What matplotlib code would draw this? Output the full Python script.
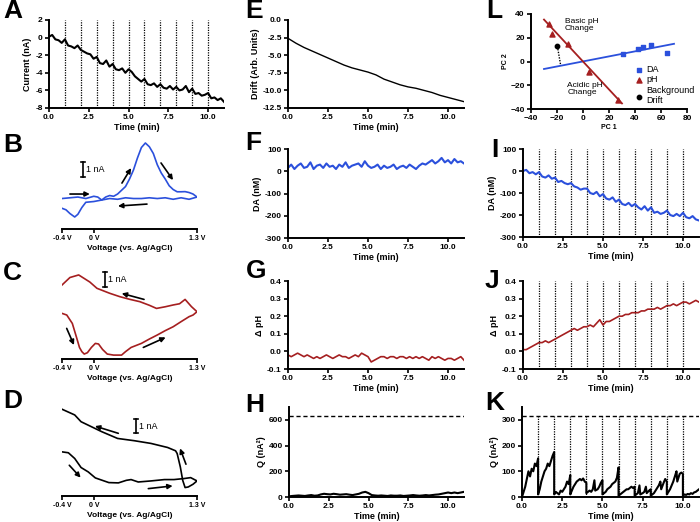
import numpy as np
import matplotlib
matplotlib.use("Agg")
import matplotlib.pyplot as plt

plt.rcParams['font.family'] = ['Liberation Sans', 'DejaVu Sans']
plt.rcParams['font.weight'] = 'bold'
plt.rcParams['axes.labelweight'] = 'bold'

W, H = 700, 522
BLUE = '#2b50dc'
RED = '#a51f20'

minute_marks = [1, 2, 3, 4, 5, 6, 7, 8, 9, 10]

# A: background current (nA), sampled every 0.2 min
a_current = [0.1, 0.3, -0.2, -0.3, -0.6, -0.2, -0.9, -1.0, -1.2, -0.9,
             -1.4, -1.6, -1.8, -1.9, -2.4, -2.2, -2.9, -3.0, -2.6, -3.3,
             -3.0, -3.6, -3.7, -3.5, -4.0, -3.6, -3.9, -4.4, -4.7, -5.0,
             -4.7, -5.3, -5.4, -5.2, -5.6, -5.3, -5.7, -5.8, -5.5, -5.9,
             -5.6, -6.0, -5.9, -5.5, -6.2, -5.8, -6.4, -6.3, -6.6, -6.5,
             -6.3, -6.9, -6.8, -7.1, -6.9, -7.3]

# E: drift (arb. units), every 0.5 min
e_drift = [-2.6, -3.3, -3.9, -4.4, -4.9, -5.4, -5.9, -6.4, -6.8, -7.1, -7.4, -7.8,
           -8.4, -8.8, -9.2, -9.5, -9.7, -10.0, -10.3, -10.7, -11.0, -11.3, -11.6]

# F, G, H: drift removed
f_da = [15, 30, 10, 25, 35, 15, 20, 40, 10, 25,
        30, 15, 35, 20, 25, 10, 30, 20, 40, 15,
        25, 30, 35, 20, 45, 25, 15, 20, 30, 10,
        25, 15, 20, 30, 10, 20, 25, 15, 30, 20,
        10, 25, 35, 30, 40, 50, 35, 45, 60, 40,
        50, 35, 55, 40, 45, 35]
g_ph = [-0.02, -0.03, -0.02, -0.01, -0.02, -0.03, -0.02, -0.03, -0.04, -0.03,
        -0.04, -0.03, -0.02, -0.03, -0.04, -0.03, -0.02, -0.03, -0.03, -0.04,
        -0.03, -0.02, -0.03, -0.01, -0.02, -0.03, -0.06, -0.05, -0.04, -0.03,
        -0.03, -0.04, -0.03, -0.03, -0.04, -0.03, -0.03, -0.04, -0.03, -0.04,
        -0.03, -0.04, -0.03, -0.04, -0.05, -0.03, -0.04, -0.03, -0.04, -0.05,
        -0.04, -0.04, -0.05, -0.04, -0.03, -0.05]
h_q = [5, 8, 10, 12, 10, 8, 12, 15, 10, 12,
       20, 25, 22, 20, 25, 22, 18, 20, 22, 18,
       15, 20, 25, 35, 40, 30, 15, 12, 10, 12,
       10, 8, 12, 10, 10, 12, 8, 10, 12, 15,
       12, 10, 12, 15, 12, 15, 18, 20, 25, 30,
       35, 30, 35, 30, 35, 40]
h_thresh = 630

# I, J, K: drift not removed
i_da = [0, 5, -10, -5, -15, -5, -25, -30, -20, -35,
        -30, -50, -45, -55, -60, -55, -70, -75, -85, -80,
        -80, -100, -105, -95, -115, -105, -125, -130, -120, -140,
        -130, -150, -155, -145, -160, -150, -165, -175, -160, -180,
        -165, -190, -185, -195, -190, -180, -200, -205, -195, -205,
        -190, -210, -215, -205, -220, -225]
j_ph = [0.01, 0.01, 0.02, 0.03, 0.04, 0.05, 0.05, 0.06, 0.05, 0.06,
        0.07, 0.08, 0.09, 0.10, 0.11, 0.12, 0.13, 0.12, 0.13, 0.14,
        0.14, 0.15, 0.14, 0.16, 0.18, 0.15, 0.17, 0.17, 0.18, 0.19,
        0.20, 0.20, 0.21, 0.21, 0.22, 0.22, 0.22, 0.23, 0.23, 0.24,
        0.24, 0.24, 0.25, 0.24, 0.25, 0.26, 0.26, 0.27, 0.26, 0.27,
        0.28, 0.28, 0.27, 0.28, 0.29, 0.28]
k_t = [0, 0.1, 0.2, 0.3, 0.4, 0.5, 0.6, 0.7, 0.8, 0.9, 1.0,
       1.0, 1.1, 1.2, 1.3, 1.4, 1.5, 1.6, 1.7, 1.8, 1.9, 2.0,
       2.0, 2.1, 2.2, 2.3, 2.4, 2.5, 2.6, 2.7, 2.8, 2.9, 3.0,
       3.0, 3.1, 3.2, 3.3, 3.4, 3.5, 3.6, 3.7, 3.8, 3.9, 4.0,
       4.0, 4.1, 4.2, 4.3, 4.4, 4.5, 4.55, 4.7, 4.8, 4.9, 5.0,
       5.0, 5.1, 5.2, 5.3, 5.4, 5.5, 5.6, 5.7, 5.8, 5.9, 6.0,
       6.0, 6.1, 6.2, 6.3, 6.4, 6.5, 6.6, 6.7, 6.8, 6.9, 7.0,
       7.0, 7.1, 7.2, 7.3, 7.35, 7.5, 7.6, 7.7, 7.75, 7.9, 8.0,
       8.0, 8.1, 8.2, 8.3, 8.4, 8.5, 8.6, 8.65, 8.8, 8.9, 9.0,
       9.0, 9.1, 9.2, 9.3, 9.4, 9.5, 9.6, 9.65, 9.8, 9.9, 10.0,
       10.0, 10.1, 10.2, 10.3, 10.4, 10.5, 10.6, 10.7, 10.8, 10.9, 11.0]
k_q = [0, 20, 40, 70, 100, 80, 110, 100, 130, 120, 150,
       10, 30, 60, 80, 100, 110, 130, 120, 140, 160, 175,
       10, 20, 15, 10, 25, 20, 30, 40, 60, 50, 85,
       10, 25, 40, 50, 60, 65, 70, 65, 72, 60, 55,
       15, 20, 25, 20, 30, 65, 25, 30, 40, 55, 65,
       10, 15, 20, 30, 35, 40, 50, 55, 60, 75, 115,
       5, 10, 15, 20, 25, 30, 30, 35, 40, 35, 40,
       5, 10, 15, 45, 10, 15, 20, 40, 15, 25, 30,
       5, 10, 15, 25, 35, 45, 60, 30, 55, 70, 60,
       10, 20, 30, 45, 60, 80, 100, 60, 90, 95, 90,
       5, 10, 8, 12, 10, 15, 12, 18, 20, 25, 30]
k_thresh = 315

# B: dopamine CV (V, nA)
b_fwd_v = [-0.4, -0.3, -0.2, -0.1, 0.0, 0.05, 0.1, 0.15, 0.2, 0.25, 0.3, 0.35, 0.4, 0.45,
           0.5, 0.55, 0.6, 0.65, 0.7, 0.75, 0.8, 0.85, 0.9, 0.95, 1.0, 1.05, 1.1, 1.15,
           1.2, 1.25, 1.3]
b_fwd_i = [-0.1, -0.05, 0.0, -0.1, 0.05, 0.0, -0.2, 0.0, 0.1, 0.05, 0.2, 0.45, 0.7, 1.2,
           1.8, 2.6, 3.3, 3.6, 3.35, 2.9, 2.15, 1.6, 1.2, 0.75, 0.5, 0.35, 0.35, 0.36,
           0.3, 0.2, 0.0]
b_rev_v = [1.3, 1.2, 1.1, 1.0, 0.9, 0.8, 0.7, 0.6, 0.5, 0.4, 0.3, 0.2, 0.1, 0.0, -0.1,
           -0.15, -0.2, -0.24, -0.3, -0.35, -0.4]
b_rev_i = [0.0, -0.15, -0.05, -0.15, -0.05, -0.1, -0.05, -0.1, -0.1, -0.05, -0.15, -0.1,
           -0.2, -0.3, -0.35, -0.7, -1.15, -1.33, -1.1, -0.85, -0.75]

# C: pH CV
c_fwd_v = [-0.4, -0.34, -0.27, -0.22, -0.18, -0.15, -0.12, -0.08, -0.03, 0.02, 0.06, 0.11,
           0.17, 0.25, 0.35, 0.4, 0.47, 0.6, 0.7, 0.8, 0.9, 1.0, 1.1, 1.2, 1.25, 1.3]
c_fwd_i = [-0.09, -0.2, -0.76, -1.64, -2.36, -2.64, -2.8, -2.71, -2.36, -2.09, -2.13, -2.49,
           -2.8, -2.87, -2.87, -2.64, -2.36, -2.09, -1.8, -1.53, -1.24, -0.98, -0.64, -0.31,
           -0.2, 0.02]
c_rev_v = [1.3, 1.23, 1.15, 1.08, 1.0, 0.9, 0.79, 0.7, 0.58, 0.45, 0.33, 0.2, 0.04, -0.05,
           -0.19, -0.3, -0.4]
c_rev_i = [0.02, 0.36, 0.84, 0.55, 0.47, 0.35, 0.24, 0.45, 0.69, 0.85, 1.02, 1.25, 1.58,
           2.0, 2.47, 2.3, 1.8]

# D: background drift CV
d_fwd_v = [-0.4, -0.32, -0.24, -0.16, -0.07, 0.02, 0.19, 0.31, 0.41, 0.47, 0.56, 0.72,
           0.89, 1.01, 1.14, 1.22, 1.3]
d_fwd_i = [1.93, 1.87, 1.49, 0.89, 0.6, 0.2, -0.11, -0.13, 0.04, 0.09, -0.07, 0.0,
           0.09, 0.09, 0.16, 0.22, 0.0]
d_rev_v = [1.3, 1.25, 1.19, 1.15, 1.12, 1.09, 1.05, 1.03, 0.93, 0.72, 0.51, 0.3, 0.1,
           -0.03, -0.16, -0.24, -0.4]
d_rev_i = [0.0, -0.22, -0.4, -0.44, 0.04, 0.93, 1.82, 2.0, 2.22, 2.49, 2.67, 2.82, 3.27,
           3.6, 3.93, 4.38, 4.76]

# L: principal component scores
da_pc1 = [31, 42.6, 45.9, 52.3, 64.4]
da_pc2 = [5.9, 10.8, 12.3, 14.1, 7.2]
ph_pc1 = [-26.2, -23.6, -11.8, 4.9, 27.2]
ph_pc2 = [31.3, 23.1, 14.9, -8.5, -32.0]
bg_pc1 = [-19.7]
bg_pc2 = [12.8]
da_fit_x = [-30, 70]
da_fit_y = [-6.3, 14.9]
ph_fit_x = [-30, 30]
ph_fit_y = [35.3, -35.3]

fig = plt.figure(figsize=(7, 5.22), dpi=100)


def add_px(l, t, r, b):
    return fig.add_axes([l / W, 1 - b / H, (r - l) / W, (b - t) / H])


def style(ax):
    for s in ['top', 'right']:
        ax.spines[s].set_visible(False)
    for s in ['left', 'bottom']:
        ax.spines[s].set_linewidth(1.4)
    ax.tick_params(direction='out', length=3, width=1.2, labelsize=6, pad=1.5)


def time_panel(box, t, y, color, ylim, yticks, ylabel, fmt, lw=1.5):
    ax = add_px(*box)
    ax.plot(t, y, color=color, lw=lw)
    ax.set_xlim(0, 11)
    ax.set_ylim(*ylim)
    ax.set_xticks([0, 2.5, 5, 7.5, 10])
    ax.set_xticklabels(['0.0', '2.5', '5.0', '7.5', '10.0'])
    ax.set_yticks(yticks)
    ax.set_yticklabels([fmt.format(v) for v in yticks])
    ax.set_xlabel('Time (min)', fontsize=6.5, labelpad=1)
    ax.set_ylabel(ylabel, fontsize=6.5, labelpad=2)
    style(ax)
    return ax


def dotted_marks(ax):
    for m in minute_marks:
        ax.axvline(m, color='k', lw=0.9, ls=(0, (1, 1)), zorder=1)


def cv_panel(box, fwd, rev, color, ylim, bar_v, bar_i, arrows):
    ax = add_px(*box)
    ax.plot(fwd[0], fwd[1], color=color, lw=1.2)
    ax.plot(rev[0], rev[1], color=color, lw=1.2)
    ax.set_xlim(-0.4, 1.3)
    ax.set_ylim(*ylim)
    for s in ['top', 'right', 'left']:
        ax.spines[s].set_visible(False)
    ax.spines['bottom'].set_linewidth(1.4)
    ax.set_yticks([])
    ax.set_xticks([-0.4, 0, 1.3])
    ax.set_xticklabels(['-0.4 V', '0 V', '1.3 V'])
    ax.tick_params(direction='out', length=3, width=1.2, labelsize=5, pad=1.5)
    ax.set_xlabel('Voltage (vs. Ag/AgCl)', fontsize=6, labelpad=2)
    ax.plot([bar_v, bar_v], bar_i, color='k', lw=1.2)
    for yy in bar_i:
        ax.plot([bar_v - 0.025, bar_v + 0.025], [yy, yy], color='k', lw=1.2)
    ax.text(bar_v + 0.04, np.mean(bar_i), '1 nA', fontsize=6.5, weight='normal',
            va='center', ha='left')
    for start, end in arrows:
        ax.annotate('', xy=end, xytext=start,
                    arrowprops=dict(arrowstyle='-|>', color='k', lw=1.2,
                                    mutation_scale=7, shrinkA=0, shrinkB=0))
    return ax


# A
ax = time_panel((49, 20, 224, 108), np.linspace(0, 11, len(a_current)), a_current, 'k',
                (-8, 2), [-8, -6, -4, -2, 0, 2], 'Current (nA)', '{:d}')
dotted_marks(ax)

# E
time_panel((288, 20, 464, 108), np.linspace(0, 11, len(e_drift)), e_drift, 'k',
           (-12.5, 0), [-12.5, -10, -7.5, -5, -2.5, 0], 'Drift (Arb. Units)', '{:.1f}', lw=1.0)

# F
time_panel((288, 149, 464, 238), np.linspace(0, 11, len(f_da)), f_da, BLUE,
           (-300, 100), [-300, -200, -100, 0, 100], 'DA (nM)', '{:d}')

# G
time_panel((288, 281, 464, 369), np.linspace(0, 11, len(g_ph)), g_ph, RED,
           (-0.1, 0.4), [-0.1, 0.0, 0.1, 0.2, 0.3, 0.4], 'Δ pH', '{:.1f}', lw=1.2)

# H
ax = time_panel((289, 407, 464, 497), np.linspace(0, 11, len(h_q)), h_q, 'k',
                (0, 700), [0, 200, 400, 600], 'Q (nA²)', '{:d}')
ax.axhline(h_thresh, color='k', lw=1.0, ls=(0, (3, 2)))

# I
ax = time_panel((523, 149, 699, 237), np.linspace(0, 11, len(i_da)), i_da, BLUE,
                (-300, 100), [-300, -200, -100, 0, 100], 'DA (nM)', '{:d}')
dotted_marks(ax)

# J
ax = time_panel((523, 281, 699, 369), np.linspace(0, 11, len(j_ph)), j_ph, RED,
                (-0.1, 0.4), [-0.1, 0.0, 0.1, 0.2, 0.3, 0.4], 'Δ pH', '{:.1f}', lw=1.2)
dotted_marks(ax)

# K
ax = time_panel((522, 407, 699, 497), k_t, k_q, 'k',
                (0, 350), [0, 100, 200, 300], 'Q (nA²)', '{:d}')
ax.axhline(k_thresh, color='k', lw=1.0, ls=(0, (3, 2)))
ax.vlines(minute_marks, 0, k_thresh, color='k', lw=0.9, linestyles=(0, (1, 1)))

# B, C, D
cv_panel((62, 140, 197, 229), (b_fwd_v, b_fwd_i), (b_rev_v, b_rev_i), BLUE,
         (-2.13, 3.8), -0.136, [1.33, 2.33],
         [((-0.3, 0.2), (-0.05, 0.2)), ((0.355, 0.93), (0.47, 1.93)),
          ((0.847, 2.27), (0.998, 1.13)), ((0.67, -0.47), (0.305, -0.6))])
cv_panel((62, 270, 197, 359), (c_fwd_v, c_fwd_i), (c_rev_v, c_rev_i), RED,
         (-3.13, 2.8), 0.141, [1.64, 2.69],
         [((0.633, 0.84), (0.352, 1.24)), ((-0.341, -1.09), (-0.249, -2.2)),
          ((0.624, -2.36), (0.905, -1.69))])
cv_panel((62, 405, 197, 496), (d_fwd_v, d_fwd_i), (d_rev_v, d_rev_i), 'k',
         (-1.0, 5.04), 0.532, [3.16, 4.09],
         [((0.309, 3.16), (0.015, 3.64)), ((-0.308, 1.04), (-0.165, 0.22)),
          ((0.687, -0.51), (0.993, -0.33)), ((1.161, 1.11), (1.086, 2.16))])

# L
ax = add_px(531, 14, 687, 109)
ax.plot(da_fit_x, da_fit_y, color=BLUE, lw=1.3)
ax.plot(ph_fit_x, ph_fit_y, color=RED, lw=1.3)
ax.plot([bg_pc1[0], -17.2], [bg_pc2[0], -3.1], color='k', lw=1.0, ls=(0, (1, 1)))
ax.scatter(da_pc1, da_pc2, marker='s', s=12, color=BLUE, label='DA', zorder=3)
ax.scatter(ph_pc1, ph_pc2, marker='^', s=13, color=RED, label='pH', zorder=3)
ax.scatter(bg_pc1, bg_pc2, marker='o', s=10, color='k', label='Background\nDrift', zorder=3)
ax.set_xlim(-40, 80)
ax.set_ylim(-40, 40)
ax.set_xticks([-40, -20, 0, 20, 40, 60, 80])
ax.set_yticks([-40, -20, 0, 20, 40])
ax.set_xlabel('PC 1', fontsize=5, labelpad=1)
ax.set_ylabel('PC 2', fontsize=5, labelpad=1)
style(ax)
ax.text(-14, 37, 'Basic pH\nChange', fontsize=6, weight='normal', va='top', ha='left',
        linespacing=1.0)
ax.text(-12, -17, 'Acidic pH\nChange', fontsize=6, weight='normal', va='top', ha='left',
        linespacing=1.0)
leg = ax.legend(loc='upper left', bbox_to_anchor=(0.64, 0.5), frameon=False,
                borderaxespad=0, handletextpad=0.3, labelspacing=0.15,
                handlelength=1.0, prop={'size': 6.5, 'weight': 'normal'})

# panel letters
letters = [('A', 3, 3), ('B', 3, 137), ('C', 3, 265), ('D', 3, 393),
           ('E', 245, 3), ('F', 245, 135), ('G', 246, 263), ('H', 245, 397),
           ('L', 486, 3), ('I', 491, 142), ('J', 485, 273), ('K', 485, 395)]
for lab, x, y in letters:
    fig.text(x / W, 1 - (y - 4) / H, lab, fontsize=19, weight='bold', va='top', ha='left')

fig.savefig('out.png', dpi=100)
